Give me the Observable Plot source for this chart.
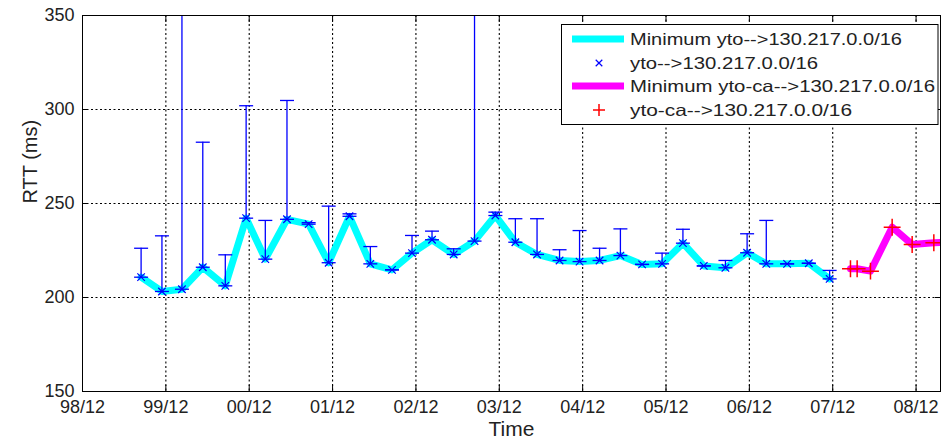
<!DOCTYPE html>
<html><head><meta charset="utf-8">
<script src="https://cdn.jsdelivr.net/npm/d3@7"></script>
<script src="https://cdn.jsdelivr.net/npm/@observablehq/plot@0.6"></script>
<style>
body{margin:0;background:#fff;}
#chart svg{font-family:"Liberation Sans",Arial,sans-serif;}
</style>
</head><body><div id="chart"></div>
<script>
// ---- data (decimal years) ----
const ytoTime = [1999.62, 1999.87, 2000.11, 2000.36, 2000.63, 2000.88, 2001.11, 2001.37, 2001.63, 2001.87,
  2002.12, 2002.37, 2002.63, 2002.87, 2003.11, 2003.37, 2003.62, 2003.87, 2004.11, 2004.37,
  2004.64, 2004.88, 2005.12, 2005.37, 2005.63, 2005.87, 2006.12, 2006.37, 2006.63, 2006.89,
  2007.12, 2007.37, 2007.63, 2007.88];
const ytoMin = [210.8, 203.2, 204.4, 216.1, 206.2, 242.2, 220.4, 241.6, 239.0, 218.5,
  243.2, 217.9, 214.7, 223.6, 230.7, 222.9, 230.0, 243.6, 229.4, 222.9,
  219.7, 219.1, 219.7, 222.3, 217.6, 217.9, 228.9, 216.8, 215.8, 223.8,
  217.9, 217.9, 218.2, 209.9];
const ytoMax = [226.2, 232.8, 420.0, 282.6, 222.7, 302.0, 241.0, 304.8, 239.8, 248.6,
  244.5, 227.1, 214.7, 233.0, 235.3, 225.9, 420.0, 245.4, 241.9, 241.9,
  225.4, 235.6, 226.2, 236.5, 217.6, 223.6, 236.3, 216.8, 219.7, 233.9,
  241.0, 217.9, 218.2, 214.4];
const caTime = [2008.13, 2008.21, 2008.37, 2008.63, 2008.87, 2009.13, 2009.38];
const caMin = [215.3, 215.3, 214.0, 237.4, 228.2, 229.1, 229.5];

const xTicks = [1998.917, 1999.917, 2000.917, 2001.917, 2002.917, 2003.917, 2004.917, 2005.917, 2006.917, 2007.917, 2008.917];
const xTickLabels = ["98/12", "99/12", "00/12", "01/12", "02/12", "03/12", "04/12", "05/12", "06/12", "07/12", "08/12"];
const yTicks = [150, 200, 250, 300, 350];
const legendLabels = ["Minimum yto-->130.217.0.0/16", "yto-->130.217.0.0/16", "Minimum yto-ca-->130.217.0.0/16", "yto-ca-->130.217.0.0/16"];

const yto = ytoTime.map((t, i) => ({t, min: ytoMin[i], max: ytoMax[i]}));
const ca = caTime.map((t, i) => ({t, min: caMin[i]}));

const cap = {draw(ctx, size) { const w = Math.sqrt(size / Math.PI); ctx.moveTo(-w, 0); ctx.lineTo(w, 0); }};
const blue = "#0000ff";
const grid = {stroke: "#000", strokeWidth: 1.1, strokeDasharray: "2,2.5"};

const plot = Plot.plot({
  width: 941, height: 441,
  marginLeft: 82, marginRight: 1, marginTop: 15, marginBottom: 50,
  style: {fontFamily: "Liberation Sans, Arial, sans-serif", fontSize: "18px", background: "white", color: "#222"},
  x: {domain: [1998.917, 2009.21]},
  y: {domain: [150, 350]},
  marks: [
    Plot.ruleX(xTicks.slice(1), grid),
    Plot.ruleY(yTicks.slice(1, -1), grid),
    Plot.line(yto, {x: "t", y: "min", stroke: "#00ffff", strokeWidth: 7, strokeLinejoin: "round"}),
    Plot.ruleX(yto, {x: "t", y1: "min", y2: "max", stroke: blue, strokeWidth: 1.3, clip: true}),
    Plot.dot(yto, {x: "t", y: "max", symbol: cap, r: 7, stroke: blue, strokeWidth: 1.3, clip: true}),
    Plot.dot(yto, {x: "t", y: "min", symbol: cap, r: 7, stroke: blue, strokeWidth: 1.3}),
    Plot.dot(yto, {x: "t", y: "min", symbol: "times", r: 3.5, stroke: blue, strokeWidth: 1.2}),
    Plot.line(ca, {x: "t", y: "min", stroke: "#ff00ff", strokeWidth: 7, strokeLinejoin: "round", clip: true}),
    Plot.dot(ca, {x: "t", y: "min", symbol: "plus", r: 5.5, stroke: "#ff0000", strokeWidth: 1.5, clip: true}),
    Plot.frame({stroke: "#000", strokeWidth: 1}),
    Plot.axisX({anchor: "bottom", ticks: xTicks, tickSize: -6, tickPadding: 15, stroke: "#000",
      tickFormat: d => xTickLabels[xTicks.indexOf(d)], label: null}),
    Plot.axisX({anchor: "top", ticks: xTicks, tickSize: -6, stroke: "#000", tickFormat: () => "", label: null}),
    Plot.axisY({anchor: "left", ticks: yTicks, tickSize: -6, tickPadding: 14, stroke: "#000", label: null}),
    Plot.axisY({anchor: "right", ticks: yTicks, tickSize: -6, stroke: "#000", tickFormat: () => "", label: null}),
    Plot.text(["Time"], {frameAnchor: "bottom", dy: 38, fontSize: 21, lineAnchor: "middle", fill: "#222"}),
    Plot.text(["RTT (ms)"], {frameAnchor: "left", dx: -52, rotate: -90, fontSize: 20, fill: "#222"})
  ]
});
document.getElementById("chart").appendChild(plot);

// ---- legend ----
const svg = d3.select(plot);
const lg = svg.append("g").attr("class", "legend").attr("text-anchor", "start");
lg.append("rect").attr("x", 561.5).attr("y", 24.5).attr("width", 376.5).attr("height", 100)
  .attr("fill", "white").attr("stroke", "#000").attr("stroke-width", 1);
const rowY = [39, 63, 86, 110];
const textLen = [272, 188, 305, 222];
lg.append("line").attr("x1", 572).attr("x2", 624).attr("y1", rowY[0]).attr("y2", rowY[0]).attr("stroke", "#00ffff").attr("stroke-width", 7);
lg.append("path").attr("d", d3.symbol(d3.symbolTimes, 30)()).attr("transform", `translate(599,${rowY[1]})`).attr("fill", "none").attr("stroke", blue).attr("stroke-width", 1.2);
lg.append("line").attr("x1", 572).attr("x2", 624).attr("y1", rowY[2]).attr("y2", rowY[2]).attr("stroke", "#ff00ff").attr("stroke-width", 7);
lg.append("path").attr("d", "M-6,0H6M0,-6V6").attr("transform", `translate(599,${rowY[3]})`).attr("fill", "none").attr("stroke", "#ff0000").attr("stroke-width", 1.5);
legendLabels.forEach((s, i) => {
  lg.append("text").attr("x", 630).attr("y", rowY[i]).attr("dy", "0.36em")
    .attr("text-anchor", "start")
    .attr("font-size", 16.5).attr("fill", "#222")
    .attr("textLength", textLen[i]).attr("lengthAdjust", "spacingAndGlyphs").text(s);
});
</script>
</body></html>
